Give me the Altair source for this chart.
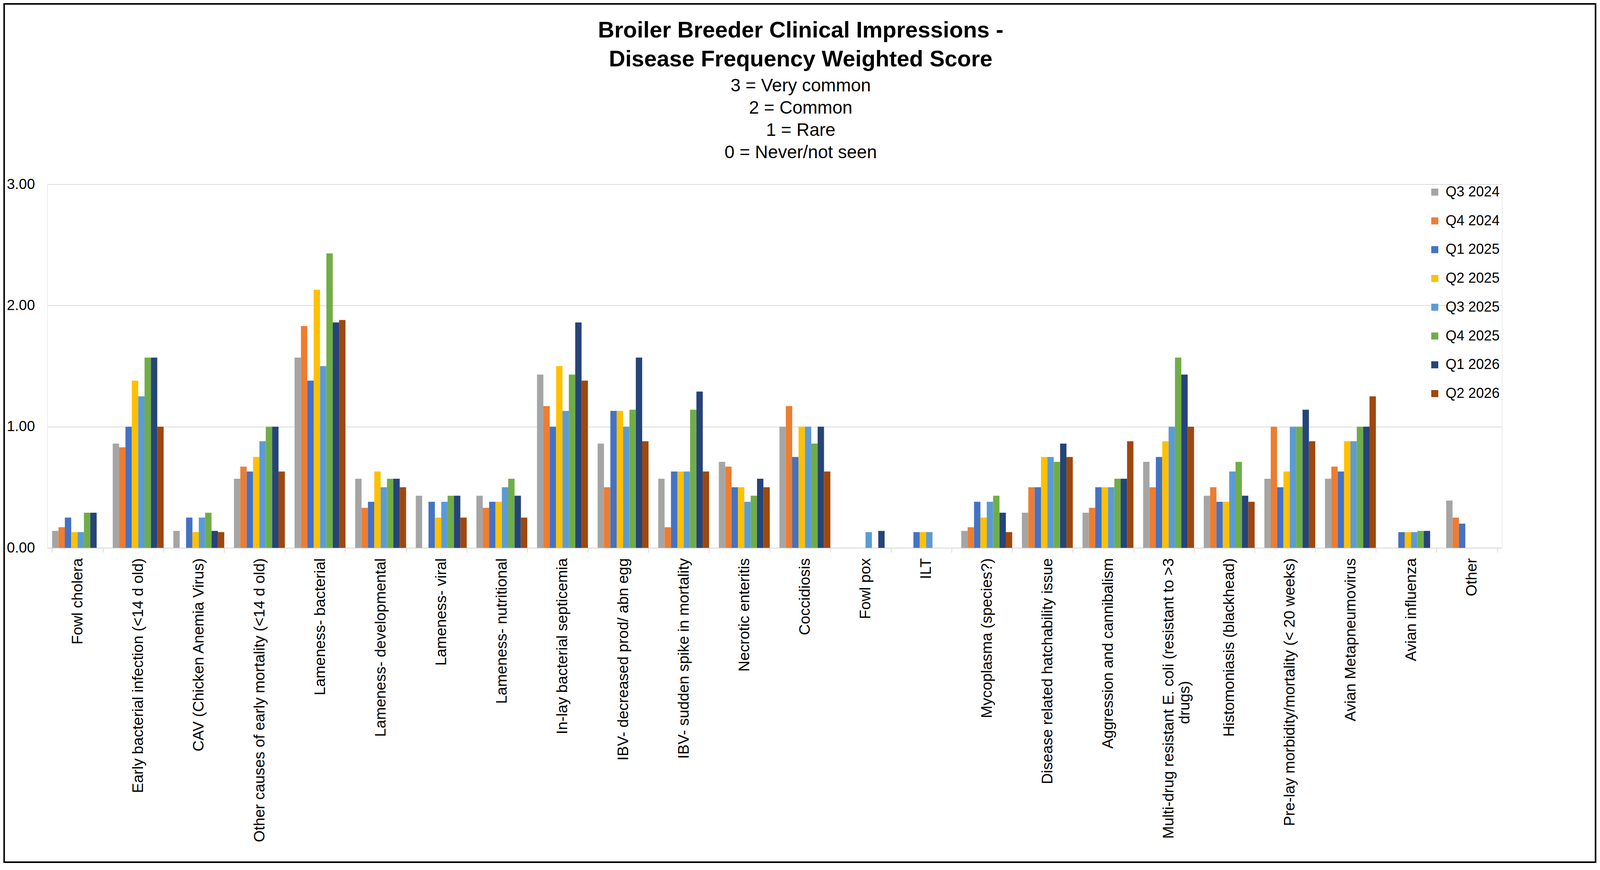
import altair as alt
import pandas as pd

categories = [
    "Fowl cholera",
    "Early bacterial infection (<14 d old)",
    "CAV (Chicken Anemia Virus)",
    "Other causes of early mortality (<14 d old)",
    "Lameness- bacterial",
    "Lameness- developmental",
    "Lameness- viral",
    "Lameness- nutritional",
    "In-lay bacterial septicemia",
    "IBV- decreased prod/ abn egg",
    "IBV- sudden spike in mortality",
    "Necrotic enteritis",
    "Coccidiosis",
    "Fowl pox",
    "ILT",
    "Mycoplasma (species?)",
    "Disease related hatchability issue",
    "Aggression and cannibalism",
    "Multi-drug resistant E. coli (resistant to >3 drugs)",
    "Histomoniasis (blackhead)",
    "Pre-lay morbidity/mortality (< 20 weeks)",
    "Avian Metapneumovirus",
    "Avian influenza",
    "Other",
]

quarters = ["Q3 2024", "Q4 2024", "Q1 2025", "Q2 2025",
            "Q3 2025", "Q4 2025", "Q1 2026", "Q2 2026"]

colors = ["#A5A5A5", "#ED7D31", "#4472C4", "#FFC000",
          "#5B9BD5", "#70AD47", "#264478", "#9E480E"]

title_lines = ["Broiler Breeder Clinical Impressions -", "Disease Frequency Weighted Score"]
subtitle_lines = ["3 = Very common", "2 = Common", "1 = Rare", "0 = Never/not seen"]

q3_2024 = [0.14, 0.86, 0.14, 0.57, 1.57, 0.57, 0.43, 0.43, 1.43, 0.86, 0.57, 0.71,
           1.00, 0.00, 0.00, 0.14, 0.29, 0.29, 0.71, 0.43, 0.57, 0.57, 0.00, 0.39]
q4_2024 = [0.17, 0.83, 0.00, 0.67, 1.83, 0.33, 0.00, 0.33, 1.17, 0.50, 0.17, 0.67,
           1.17, 0.00, 0.00, 0.17, 0.50, 0.33, 0.50, 0.50, 1.00, 0.67, 0.00, 0.25]
q1_2025 = [0.25, 1.00, 0.25, 0.63, 1.38, 0.38, 0.38, 0.38, 1.00, 1.13, 0.63, 0.50,
           0.75, 0.00, 0.13, 0.38, 0.50, 0.50, 0.75, 0.38, 0.50, 0.63, 0.13, 0.20]
q2_2025 = [0.13, 1.38, 0.13, 0.75, 2.13, 0.63, 0.25, 0.38, 1.50, 1.13, 0.63, 0.50,
           1.00, 0.00, 0.13, 0.25, 0.75, 0.50, 0.88, 0.38, 0.63, 0.88, 0.13, 0.00]
q3_2025 = [0.13, 1.25, 0.25, 0.88, 1.50, 0.50, 0.38, 0.50, 1.13, 1.00, 0.63, 0.38,
           1.00, 0.13, 0.13, 0.38, 0.75, 0.50, 1.00, 0.63, 1.00, 0.88, 0.13, 0.00]
q4_2025 = [0.29, 1.57, 0.29, 1.00, 2.43, 0.57, 0.43, 0.57, 1.43, 1.14, 1.14, 0.43,
           0.86, 0.00, 0.00, 0.43, 0.71, 0.57, 1.57, 0.71, 1.00, 1.00, 0.14, 0.00]
q1_2026 = [0.29, 1.57, 0.14, 1.00, 1.86, 0.57, 0.43, 0.43, 1.86, 1.57, 1.29, 0.57,
           1.00, 0.14, 0.00, 0.29, 0.86, 0.57, 1.43, 0.43, 1.14, 1.00, 0.14, 0.00]
q2_2026 = [0.00, 1.00, 0.13, 0.63, 1.88, 0.50, 0.25, 0.25, 1.38, 0.88, 0.63, 0.50,
           0.63, 0.00, 0.00, 0.13, 0.75, 0.88, 1.00, 0.38, 0.88, 1.25, 0.00, 0.00]

series = [q3_2024, q4_2024, q1_2025, q2_2025, q3_2025, q4_2025, q1_2026, q2_2026]

rows = []
for qname, vals in zip(quarters, series):
    for cat, v in zip(categories, vals):
        rows.append({"category": cat, "quarter": qname, "score": v})
df = pd.DataFrame(rows)

# The page's CSS canvas is 4096 px wide (photographed at ~1.22 device px each)
# and 2228 px tall; horizontal sizes are scaled from the reference by SX.
SX = 4096 / 4999


def px(v):
    return round(v * SX, 1)


FONT = "Liberation Sans, Arial, sans-serif"
STROKE = 4
PLOT_W, PLOT_H = px(4545), 931
OFF_L, OFF_T = px(147) - 8 - STROKE / 2, 472 - 8 - STROKE / 2
FRAME_X2 = 4074 - OFF_L
FRAME_Y2 = 2198 - OFF_T
CENTER_X = px(2501) - px(147)

# second line of the wrapped label is centred under the first one:
# non-breaking spaces, closed by a zero-width space so they are not trimmed
pad = "\u00a0" * 29 + "\u200b"
label_expr = (
    "indexof(datum.label, 'Multi-drug') == 0 ? "
    "['Multi-drug resistant E. coli (resistant to >3', 'drugs)" + pad + "'] : datum.label"
)

bars = alt.Chart(df).mark_bar().encode(
    x=alt.X(
        "category:N",
        sort=categories,
        scale=alt.Scale(paddingInner=0.16, paddingOuter=0.08),
        axis=alt.Axis(
            title=None,
            labelAngle=-90,
            labelFont=FONT,
            labelFontSize=39,
            labelColor="#000000",
            labelLimit=3000,
            labelPadding=14,
            labelOverlap=False,
            labelLineHeight=41,
            labelExpr=label_expr,
            tickBand="extent",
            ticks=True,
            tickSize=12,
            tickColor="#D9D9D9",
            tickWidth=2,
            domainColor="#D9D9D9",
            domainWidth=2,
            grid=False,
        ),
    ),
    xOffset=alt.XOffset("quarter:N", sort=quarters,
                        scale=alt.Scale(paddingInner=0, paddingOuter=0)),
    y=alt.Y(
        "score:Q",
        scale=alt.Scale(domain=[0, 3], nice=False),
        axis=alt.Axis(
            title=None,
            values=[0, 1, 2, 3],
            format=".2f",
            ticks=False,
            domain=False,
            gridColor="#D9D9D9",
            gridWidth=2,
            labelFont=FONT,
            labelFontSize=37,
            labelColor="#000000",
            labelPadding=px(39),
        ),
    ),
    color=alt.Color(
        "quarter:N",
        sort=quarters,
        scale=alt.Scale(domain=quarters, range=colors),
        legend=alt.Legend(
            title=None,
            orient="none",
            legendX=px(4460) - px(147),
            legendY=2,
            padding=0,
            symbolType="square",
            symbolSize=18 ** 2,
            symbolStrokeWidth=0,
            labelFont=FONT,
            labelFontSize=36,
            labelColor="#000000",
            labelOffset=px(12),
            rowPadding=37.7,
        ),
    ),
)

one = pd.DataFrame({"f": [1]})

frame = alt.Chart(one).mark_rect(
    fillOpacity=0, stroke="#000000", strokeWidth=STROKE
).encode(
    x=alt.value(-OFF_L),
    x2=alt.value(FRAME_X2),
    y=alt.value(-OFF_T),
    y2=alt.value(FRAME_Y2),
)

title = alt.Chart(one).mark_text(
    text=title_lines,
    font=FONT,
    fontSize=58,
    fontWeight="bold",
    lineHeight=74,
    align="center",
    baseline="alphabetic",
    color="#000000",
).encode(x=alt.value(CENTER_X), y=alt.value(-376))

subtitle = alt.Chart(one).mark_text(
    text=subtitle_lines,
    font=FONT,
    fontSize=46,
    lineHeight=57,
    align="center",
    baseline="alphabetic",
    color="#000000",
).encode(x=alt.value(CENTER_X), y=alt.value(-238))

chart = alt.layer(bars, frame, title, subtitle).properties(
    width=PLOT_W,
    height=PLOT_H,
    padding=0,
).configure_view(strokeWidth=0).configure(background="white")

chart.save("out.html", embed_options={"renderer": "svg", "actions": False})
